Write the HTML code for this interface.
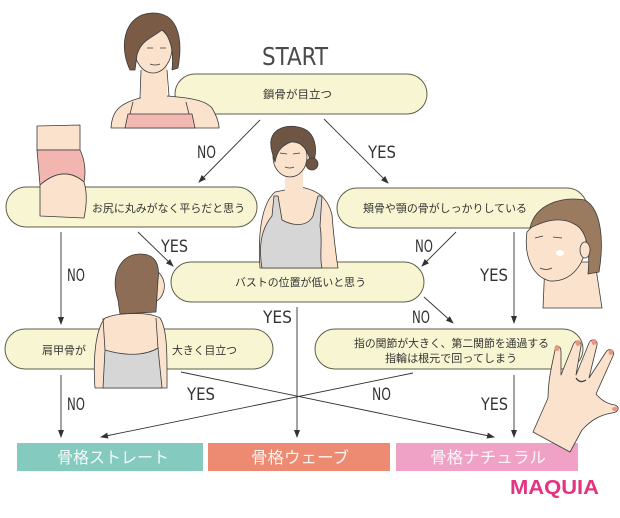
<!DOCTYPE html>
<html><head><meta charset="utf-8">
<style>
html,body{margin:0;padding:0;background:#fff;}
svg{display:block;}
.lbl{font-family:"Liberation Sans Narrow","DejaVu Sans Condensed","Liberation Sans",sans-serif;font-size:17px;fill:#333;}
.q{font-family:"Liberation Sans","Noto Sans CJK JP",sans-serif;font-size:11px;fill:#333;}
.res{font-family:"Liberation Sans","Noto Sans CJK JP",sans-serif;font-size:16px;fill:#fff;fill-opacity:0.9;}
</style></head>
<body>
<svg width="620" height="518" viewBox="0 0 620 518" xmlns="http://www.w3.org/2000/svg">
<defs>
<marker id="ah" markerWidth="8" markerHeight="6" refX="7" refY="3" orient="auto" markerUnits="userSpaceOnUse">
<path d="M0,0 L8,3 L0,6 Z" fill="#333"/>
</marker>
</defs>
<rect width="620" height="518" fill="#fff"/>

<!-- START -->
<text x="262" y="65" class="lbl" style="font-size:25px;fill:#4a4a4a" textLength="66" lengthAdjust="spacingAndGlyphs">START</text>

<!-- boxes -->
<g fill="#f8f6d2" stroke="#5e5e4c" stroke-width="1">
<rect x="175" y="74" width="252" height="40" rx="20"/>
<rect x="6" y="187" width="251" height="40" rx="20"/>
<rect x="337" y="188" width="250" height="40" rx="20"/>
<rect x="171" y="262" width="253" height="40" rx="20"/>
<rect x="5" y="329" width="268" height="40" rx="20"/>
<rect x="315" y="329" width="268" height="40" rx="20"/>
</g>

<!-- connectors -->
<g stroke="#333" stroke-width="0.9" fill="none" marker-end="url(#ah)">
<line x1="260" y1="120" x2="199" y2="182"/>
<line x1="324" y1="119" x2="388" y2="183"/>
<line x1="61" y1="232" x2="61" y2="324"/>
<line x1="138" y1="232" x2="173" y2="266"/>
<line x1="456" y1="232" x2="422" y2="266"/>
<line x1="514" y1="232" x2="514" y2="323"/>
<line x1="297" y1="307" x2="297" y2="437"/>
<line x1="424" y1="297" x2="453" y2="323"/>
<line x1="61" y1="375" x2="61" y2="437"/>
<line x1="181" y1="372" x2="494" y2="437"/>
<line x1="413" y1="373" x2="101" y2="437"/>
<line x1="514" y1="375" x2="514" y2="437"/>
</g>

<!-- labels -->
<text x="197" y="158" class="lbl" textLength="19" lengthAdjust="spacingAndGlyphs">NO</text>
<text x="368" y="158" class="lbl" textLength="28" lengthAdjust="spacingAndGlyphs">YES</text>
<text x="67" y="281" class="lbl" textLength="18" lengthAdjust="spacingAndGlyphs">NO</text>
<text x="161" y="252" class="lbl" textLength="27" lengthAdjust="spacingAndGlyphs">YES</text>
<text x="415" y="252" class="lbl" textLength="18" lengthAdjust="spacingAndGlyphs">NO</text>
<text x="480" y="281" class="lbl" textLength="28" lengthAdjust="spacingAndGlyphs">YES</text>
<text x="263" y="323" class="lbl" textLength="29" lengthAdjust="spacingAndGlyphs">YES</text>
<text x="412" y="323" class="lbl" textLength="18" lengthAdjust="spacingAndGlyphs">NO</text>
<text x="67" y="410" class="lbl" textLength="18" lengthAdjust="spacingAndGlyphs">NO</text>
<text x="187" y="400" class="lbl" textLength="28" lengthAdjust="spacingAndGlyphs">YES</text>
<text x="372" y="400" class="lbl" textLength="19" lengthAdjust="spacingAndGlyphs">NO</text>
<text x="481" y="410" class="lbl" textLength="27" lengthAdjust="spacingAndGlyphs">YES</text>

<!-- question text -->
<text x="263" y="98" class="q" textLength="69" lengthAdjust="spacingAndGlyphs">鎖骨が目立つ</text>
<text x="92" y="212" class="q" textLength="153" lengthAdjust="spacingAndGlyphs">お尻に丸みがなく平らだと思う</text>
<text x="363" y="212" class="q" textLength="164" lengthAdjust="spacingAndGlyphs">頬骨や顎の骨がしっかりしている</text>
<text x="235" y="286" class="q" textLength="131" lengthAdjust="spacingAndGlyphs">バストの位置が低いと思う</text>
<text x="42" y="354" class="q" textLength="44" lengthAdjust="spacingAndGlyphs">肩甲骨が</text>
<text x="172" y="354" class="q" textLength="65" lengthAdjust="spacingAndGlyphs">大きく目立つ</text>
<text x="354" y="347" class="q" textLength="195" lengthAdjust="spacingAndGlyphs">指の関節が大きく、第二関節を通過する</text>
<text x="385" y="362" class="q" textLength="132" lengthAdjust="spacingAndGlyphs">指輪は根元で回ってしまう</text>

<!-- result boxes -->
<rect x="17" y="443" width="186" height="28" fill="#85cabf"/>
<rect x="208" y="443" width="182" height="28" fill="#ed8a72"/>
<rect x="396" y="443" width="182" height="28" fill="#efa2c6"/>
<text x="57" y="463" class="res" textLength="112" lengthAdjust="spacingAndGlyphs">骨格ストレート</text>
<text x="251" y="463" class="res" textLength="98" lengthAdjust="spacingAndGlyphs">骨格ウェーブ</text>
<text x="430" y="463" class="res" textLength="116" lengthAdjust="spacingAndGlyphs">骨格ナチュラル</text>

<text x="510" y="494" style="font-family:'Liberation Sans',sans-serif;font-weight:bold;font-size:20px;fill:#e5337f" textLength="89" lengthAdjust="spacingAndGlyphs">MAQUIA</text>

<!-- illustrations -->
<g stroke="#3a3a3a" stroke-width="0.8" stroke-linejoin="round">
<!-- top woman -->
<path d="M111,128 C112,112 118,104 140,98 L168,96 C190,98 205,100 212,108 C216,115 219,122 219,128 Z" fill="#fbe2cd"/>
<rect x="141" y="62" width="26" height="38" fill="#fbe2cd" stroke="none"/>
<path d="M141,70 L140,98 M167,70 L169,96" fill="none"/>
<ellipse cx="153" cy="47" rx="19" ry="26" fill="#fbe2cd"/>
<path d="M130,70 C118,45 125,14 152,13 C176,12 184,35 178,68 L172,70 C174,50 170,36 162,30 C152,38 141,40 137,55 L135,70 Z" fill="#7a5c46"/>
<path d="M125,128 L128,114 L192,114 L195,128 Z" fill="#f2b8b2"/>
<path d="M130,114 L133,102 M189,114 L186,102" fill="none"/>
<path d="M147,48 l6,0 M160,48 l6,0 M150,64 q5,2 10,0" fill="none"/>

<!-- pants -->
<path d="M37,126 L80,125 L80,150 L37,150 Z" fill="#fbe2cd"/>
<path d="M37,150 L80,150 C85,160 86,172 84,182 C70,170 55,172 40,185 Z" fill="#f2b5b0"/>
<path d="M40,185 C55,172 70,170 84,182 C88,195 86,208 84,218 L40,216 Z" fill="#fbe2cd"/>

<!-- middle woman -->
<path d="M260,268 C258,240 260,205 275,192 L300,187 C318,190 328,198 332,215 C334,240 336,255 338,268 Z" fill="#fbe2cd"/>
<rect x="285" y="168" width="18" height="24" fill="#fbe2cd" stroke="none"/>
<path d="M262,268 C258,245 262,228 272,216 L274,196 L278,196 L282,220 C295,227 308,226 313,216 L318,196 L322,196 L320,226 C323,242 319,256 322,268 Z" fill="#d6d6d6"/>
<ellipse cx="290" cy="157" rx="17" ry="20" fill="#fbe2cd"/>
<path d="M272,152 C266,130 284,124 298,127 C316,130 319,150 312,166 C308,150 302,141 291,142 C283,145 277,150 275,162 Z" fill="#6e5544"/>
<circle cx="312" cy="164" r="6" fill="#6e5544"/>
<path d="M280,153 l7,1 M293,154 l7,-1 M285,167 q5,2 9,0" fill="none"/>

<!-- right head -->
<path d="M545,262 L543,308 L602,308 L595,262 Z" fill="#fbe2cd"/>
<path d="M527,232 C524,252 530,276 550,281 C570,282 586,266 586,240 C586,222 562,214 540,218 Z" fill="#fbe2cd"/>
<path d="M530,228 C535,205 560,196 585,200 C602,210 604,242 599,272 L588,274 C590,255 588,232 576,225 C562,216 546,220 530,228 Z" fill="#9b7b5f"/>
<ellipse cx="585" cy="250" rx="5" ry="8" fill="#fbe2cd"/>
<path d="M535,238 l8,-2 M553,237 l9,1 M540,268 q6,3 12,0" fill="none"/>
<ellipse cx="560" cy="253" rx="4" ry="3" fill="#fff" stroke="none"/>

<!-- back woman -->
<rect x="128" y="298" width="24" height="22" fill="#fbe2cd" stroke="none"/>
<path d="M95,388 C93,360 95,330 105,318 C120,312 150,312 160,318 C168,330 167,360 167,388 Z" fill="#fbe2cd"/>
<path d="M103,388 L105,350 C125,356 145,356 158,348 L162,388 Z" fill="#d6d6d6"/>
<path d="M105,350 L103,318 M158,348 L156,318" fill="none"/>
<path d="M150,268 C160,270 166,280 164,290 C162,298 158,302 150,303 Z" fill="#fbe2cd"/>
<path d="M118,300 C110,275 120,254 140,254 C156,254 160,265 158,280 L156,312 L120,314 Z" fill="#8d6d55"/>

<!-- hand -->
<path d="M533,432 L548,398 C548,380 552,365 555,350 C556,345 561,345 561,352 L561,375 L573,345 C575,339 582,340 581,346 L576,375 L589,343 C591,338 598,339 597,345 L589,378 L606,352 C609,347 616,350 613,356 L596,394 C601,400 608,404 615,405 C620,407 619,412 612,413 C600,415 591,420 582,430 L570,452 Z" fill="#fbe2cd"/>
<g fill="#e8957f" stroke="none">
<ellipse cx="557" cy="348" rx="2.5" ry="3"/>
<ellipse cx="578" cy="343" rx="2.5" ry="3"/>
<ellipse cx="594" cy="342" rx="2.5" ry="3"/>
<ellipse cx="611" cy="352" rx="2.5" ry="3"/>
<ellipse cx="615" cy="409" rx="3" ry="2"/>
</g>
<path d="M576,378 q4,6 10,2" fill="none" stroke-width="1.2"/>
</g>
</svg>
</body></html>
